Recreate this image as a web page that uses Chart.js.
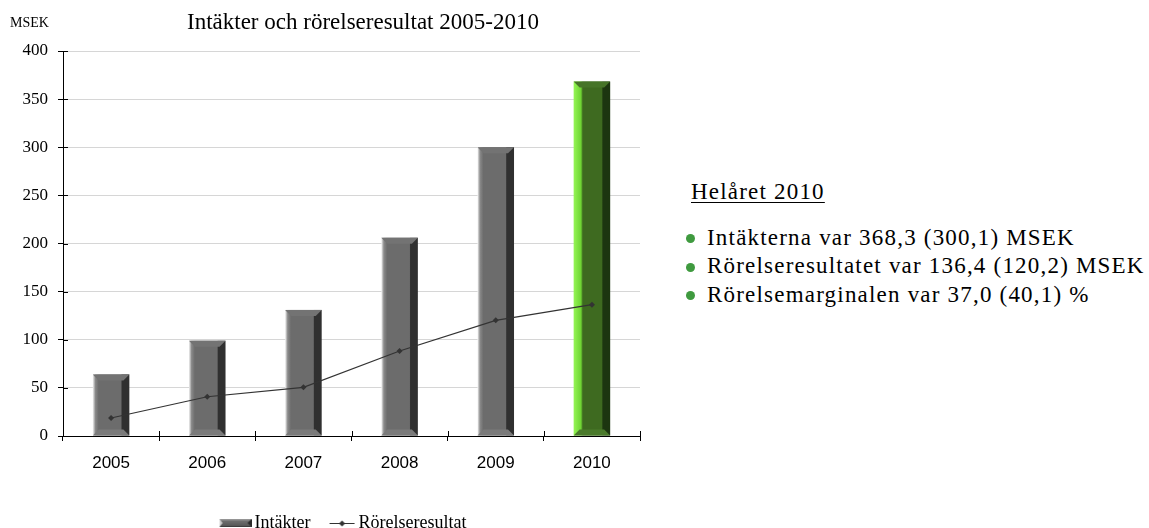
<!DOCTYPE html>
<html>
<head>
<meta charset="utf-8">
<script src="https://cdn.jsdelivr.net/npm/chart.js@4/dist/chart.umd.min.js"></script>
<style>
  html, body { margin:0; padding:0; background:#fff; }
  body { width:1149px; height:528px; position:relative; overflow:hidden; font-family:"Liberation Serif","Times New Roman",serif; color:#000; }
  #wrap { position:absolute; left:0; top:0; width:664px; height:528px; }
  .t { position:absolute; white-space:nowrap; }
  #msek { left:10px; top:14px; font-size:14px; line-height:18px; }
  #title { left:187px; top:8px; font-size:23px; line-height:28px; }
  #panel .t { font-size:23px; line-height:28px; letter-spacing:1.2px; }
  #head { left:691px; top:178px; text-decoration:underline; text-decoration-thickness:1px; text-underline-offset:3px; }
  .dot { position:absolute; width:9px; height:9px; border-radius:50%; background:#3f9a3f; }
</style>
</head>
<body>
<div id="wrap"><canvas id="c"></canvas></div>
<div class="t" id="msek">MSEK</div>
<div class="t" id="title">Intäkter och rörelseresultat 2005-2010</div>
<div id="panel"></div>
<script>
// ---- data ----
const categories = ['2005', '2006', '2007', '2008', '2009', '2010'];
const intakter = [64, 99, 131, 206, 300.1, 368.3];
const rorelseresultat = [18.7, 40.8, 50.6, 88.3, 120.2, 136.4];
const yTickValues = [0, 50, 100, 150, 200, 250, 300, 350, 400];
const seriesNames = ['Intäkter', 'Rörelseresultat'];
const panelHeading = 'Helåret 2010';
const panelLines = [
  'Intäkterna var 368,3 (300,1) MSEK',
  'Rörelseresultatet var 136,4 (120,2) MSEK',
  'Rörelsemarginalen var 37,0 (40,1) %'
];
const highlightIndex = 5;

// ---- side panel (text) ----
const panel = document.getElementById('panel');
const head = document.createElement('div');
head.className = 't'; head.id = 'head'; head.textContent = panelHeading;
panel.appendChild(head);
panelLines.forEach((txt, i) => {
  const top = 223.5 + i * 28.5;
  const d = document.createElement('div');
  d.className = 't'; d.style.left = '707px'; d.style.top = top + 'px';
  d.textContent = txt;
  panel.appendChild(d);
  const dot = document.createElement('div');
  dot.className = 'dot'; dot.style.left = '685.5px'; dot.style.top = (top + 10.5) + 'px';
  panel.appendChild(dot);
});

// ---- palettes ----
const grayPal = { hi:'#f2f2f2', hi2:'#8a8a8a', mid:'#6c6c6c', dark:'#303030', top:'#737373', bot:'#7a7a7a' };
const greenPal = { hi:'#95f555', hi2:'#6fd533', mid:'#3e6a20', dark:'#1c3510', top:'#467428', bot:'#4a7a2b' };

function drawBevelBar(ctx, left, right, top, bottom, pal, isGreen) {
  const w = right - left;
  const h = bottom - top;
  const b = Math.min(6, w * 0.17, h / 2);
  const g = ctx.createLinearGradient(left, 0, right, 0);
  if (isGreen) {
    g.addColorStop(0, pal.hi); g.addColorStop(0.2, pal.hi2); g.addColorStop(0.25, pal.mid);
  } else {
    g.addColorStop(0, pal.hi); g.addColorStop(0.07, pal.hi2); g.addColorStop(0.16, pal.mid);
  }
  g.addColorStop(0.77, pal.mid); g.addColorStop(0.8, pal.dark); g.addColorStop(1, pal.dark);
  ctx.fillStyle = g;
  ctx.fillRect(left, top, w, h);
  ctx.fillStyle = pal.top;
  ctx.beginPath();
  ctx.moveTo(left, top); ctx.lineTo(right, top);
  ctx.lineTo(right - b, top + b); ctx.lineTo(left + b, top + b); ctx.closePath();
  ctx.fill();
  ctx.fillStyle = pal.bot;
  ctx.beginPath();
  ctx.moveTo(left, bottom); ctx.lineTo(right, bottom);
  ctx.lineTo(right - b, bottom - b); ctx.lineTo(left + b, bottom - b); ctx.closePath();
  ctx.fill();
}

const bevelBars = {
  id: 'bevelBars',
  afterLayout(chart) {
    // nudge legend to its place in the original
    const l = chart.legend;
    if (l) { l.top += 14; l.bottom += 14; l.left += 8; l.right += 8; }
  },
  beforeDatasetDraw(chart, args) {
    if (args.meta.type !== 'bar') return;
    const ctx = chart.ctx;
    const area = chart.chartArea;
    ctx.save();
    ctx.beginPath(); ctx.rect(area.left, area.top - 2, area.right - area.left, area.bottom - area.top + 2); ctx.clip();
    args.meta.data.forEach((el, i) => {
      const p = el.getProps(['x', 'y', 'base', 'width'], true);
      const isGreen = i === highlightIndex;
      drawBevelBar(ctx, p.x - p.width / 2, p.x + p.width / 2, Math.min(p.y, p.base), Math.max(p.y, p.base), isGreen ? greenPal : grayPal, isGreen);
    });
    ctx.restore();
    return false;
  },
  afterDraw(chart) {
    const ctx = chart.ctx;
    const y = chart.scales.y, x = chart.scales.x;
    ctx.save();
    ctx.strokeStyle = '#000'; ctx.lineWidth = 1;
    ctx.beginPath();
    y.ticks.forEach(t => {
      const py = Math.round(y.getPixelForValue(t.value)) + 0.5;
      ctx.moveTo(y.right, py); ctx.lineTo(y.right + 5, py);
    });
    for (let i = 0; i <= categories.length; i++) {
      const px = Math.round(x.left + (x.right - x.left) * i / categories.length) + 0.5;
      ctx.moveTo(px, x.top); ctx.lineTo(px, x.top - 5);
    }
    ctx.stroke();
    ctx.restore();
  }
};

// legend icons (drawn on right part of a wider transparent canvas so text sits close)
function makeBarIcon() {
  const c = document.createElement('canvas'); c.width = 44; c.height = 8;
  const x = c.getContext('2d');
  const g = x.createLinearGradient(0, 0, 0, 8);
  g.addColorStop(0, '#a0a0a0'); g.addColorStop(0.3, '#6c6c6c'); g.addColorStop(0.8, '#5a5a5a'); g.addColorStop(1, '#303030');
  x.fillStyle = g; x.fillRect(12, 0, 32, 8);
  x.fillStyle = '#2a2a2a';
  x.beginPath(); x.moveTo(44, 0); x.lineTo(44, 8); x.lineTo(40, 4); x.closePath(); x.fill();
  x.fillStyle = '#d0d0d0';
  x.beginPath(); x.moveTo(12, 0); x.lineTo(12, 8); x.lineTo(15, 4); x.closePath(); x.fill();
  return c;
}
function makeLineIcon() {
  const c = document.createElement('canvas'); c.width = 44; c.height = 8;
  const x = c.getContext('2d');
  x.strokeStyle = '#333'; x.lineWidth = 1;
  x.beginPath(); x.moveTo(18, 4.5); x.lineTo(43, 4.5); x.stroke();
  x.fillStyle = '#333';
  x.beginPath(); x.moveTo(30.5, 1.5); x.lineTo(33.5, 4.5); x.lineTo(30.5, 7.5); x.lineTo(27.5, 4.5); x.closePath(); x.fill();
  return c;
}
const barIcon = makeBarIcon();
const lineIcon = makeLineIcon();

const chart = new Chart(document.getElementById('c'), {
  type: 'bar',
  data: {
    labels: categories,
    datasets: [
      {
        type: 'bar', label: seriesNames[0], data: intakter,
        backgroundColor: '#6c6c6c', borderWidth: 0,
        barPercentage: 0.38, categoryPercentage: 1, order: 2
      },
      {
        type: 'line', label: seriesNames[1], data: rorelseresultat,
        borderColor: '#333', backgroundColor: '#333', borderWidth: 1.2,
        pointStyle: 'rectRot', pointRadius: 3, pointBackgroundColor: '#333', pointBorderWidth: 0,
        tension: 0, fill: false, order: 1
      }
    ]
  },
  options: {
    responsive: true, maintainAspectRatio: false, animation: false,
    layout: { padding: { top: 51, left: 0, right: 0, bottom: 0 } },
    plugins: {
      title: { display: false },
      tooltip: { enabled: false },
      legend: {
        position: 'bottom',
        labels: {
          usePointStyle: true, pointStyleWidth: 32, boxHeight: 8,
          font: { family: 'Liberation Serif', size: 18 }, color: '#000', padding: 7,
          sort: (a, b) => a.datasetIndex - b.datasetIndex,
          generateLabels: (ch) => {
            const items = Chart.defaults.plugins.legend.labels.generateLabels(ch);
            items.forEach(it => { it.pointStyle = it.datasetIndex === 0 ? barIcon : lineIcon; });
            return items;
          }
        }
      }
    },
    scales: {
      x: {
        offset: true,
        grid: { display: true, offset: true, drawOnChartArea: false, drawTicks: true, tickLength: 5, color: '#000', tickColor: '#000' },
        border: { display: true, color: '#000', width: 1 },
        ticks: { font: { family: 'Liberation Sans', size: 17 }, color: '#000', padding: 12, maxRotation: 0 },
        afterFit: (s) => { s.height = 57; }
      },
      y: {
        min: 0, max: 400,
        afterBuildTicks: (s) => { s.ticks = yTickValues.map(v => ({ value: v })); },
        grid: { color: '#d6d6d6', lineWidth: 1, drawTicks: true, tickLength: 5, tickColor: '#000' },
        border: { display: true, color: '#000', width: 1 },
        ticks: { font: { family: 'Liberation Serif', size: 17 }, color: '#000', padding: 10 },
        afterFit: (s) => { s.width = 63; }
      },
      yR: {
        position: 'right', display: true,
        grid: { display: false, drawTicks: false }, border: { display: false },
        ticks: { display: false },
        afterFit: (s) => { s.width = 24; }
      }
    }
  },
  plugins: [bevelBars]
});
</script>
</body>
</html>
